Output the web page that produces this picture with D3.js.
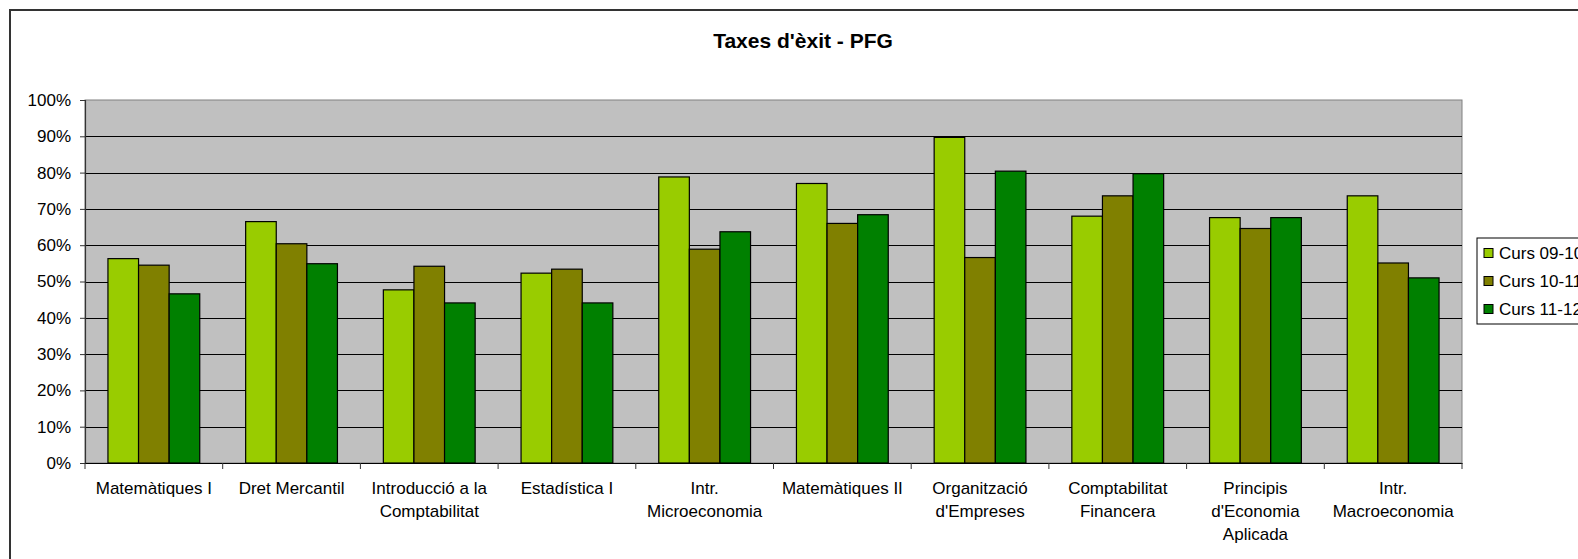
<!DOCTYPE html>
<html>
<head>
<meta charset="utf-8">
<script src="https://cdn.jsdelivr.net/npm/d3@7/dist/d3.min.js"></script>
<style>
  html, body { margin: 0; padding: 0; background: #fff; }
  svg { display: block; }
  text { font-family: "Liberation Sans", Arial, sans-serif; fill: #000; }
</style>
</head>
<body>
<script>
const title = "Taxes d'èxit - PFG";
const categories = [
  "Matemàtiques I",
  "Dret Mercantil",
  "Introducció a la\nComptabilitat",
  "Estadística I",
  "Intr.\nMicroeconomia",
  "Matemàtiques II",
  "Organització\nd'Empreses",
  "Comptabilitat\nFinancera",
  "Principis\nd'Economia\nAplicada",
  "Intr.\nMacroeconomia"
];
const seriesNames = ["Curs 09-10", "Curs 10-11", "Curs 11-12"];
const curs0910 = [0.563, 0.665, 0.477, 0.523, 0.788, 0.770, 0.897, 0.680, 0.676, 0.736];
const curs1011 = [0.545, 0.604, 0.542, 0.534, 0.589, 0.660, 0.566, 0.736, 0.646, 0.551];
const curs1112 = [0.466, 0.549, 0.441, 0.441, 0.637, 0.684, 0.804, 0.797, 0.676, 0.510];
const seriesColors = ["#99CC00", "#808000", "#008000"];
const yTicks = [0, 0.1, 0.2, 0.3, 0.4, 0.5, 0.6, 0.7, 0.8, 0.9, 1.0];

const seriesValues = [curs0910, curs1011, curs1112];
const W = 1578, H = 559;
const plot = { left: 85, right: 1462, top: 100, bottom: 463 };

const svg = d3.select("body").append("svg").attr("width", W).attr("height", H);

// outer chart border
svg.append("rect").attr("x", 10).attr("y", 10).attr("width", W + 20).attr("height", H + 20)
  .attr("fill", "#fff").attr("stroke", "#333").attr("stroke-width", 2);

// title
svg.append("text").attr("x", 803).attr("y", 48).attr("text-anchor", "middle")
  .style("font-size", "21px").style("font-weight", "bold").text(title);

const x = d3.scaleBand().domain(categories).range([plot.left, plot.right]).padding(0);
const x1 = d3.scaleBand().domain(seriesNames).range([0, x.bandwidth()])
  .paddingInner(0).paddingOuter(0.75);
const y = d3.scaleLinear().domain([0, 1]).range([plot.bottom, plot.top]);

// plot area
svg.append("rect").attr("x", plot.left).attr("y", plot.top)
  .attr("width", plot.right - plot.left).attr("height", plot.bottom - plot.top)
  .attr("fill", "#C0C0C0").attr("stroke", "#808080").attr("stroke-width", 1);

// gridlines
svg.append("g").selectAll("line").data(yTicks.slice(1, -1)).join("line")
  .attr("x1", plot.left).attr("x2", plot.right)
  .attr("y1", d => Math.round(y(d)) + 0.5).attr("y2", d => Math.round(y(d)) + 0.5)
  .attr("stroke", "#000").attr("stroke-width", 1);

// bars
const groups = svg.append("g").selectAll("g").data(categories).join("g")
  .attr("transform", c => `translate(${x(c)},0)`);
groups.selectAll("rect").data((c, i) => seriesNames.map((s, j) => ({ s, j, v: seriesValues[j][i] })))
  .join("rect")
  .attr("x", d => x1(d.s)).attr("width", x1.bandwidth())
  .attr("y", d => y(d.v)).attr("height", d => y(0) - y(d.v))
  .attr("fill", d => seriesColors[d.j]).attr("stroke", "#000").attr("stroke-width", 1.2);

// y axis
const yAxis = d3.axisLeft(y).tickValues(yTicks).tickFormat(d3.format(".0%")).tickSize(5).tickPadding(9);
const gy = svg.append("g").attr("transform", `translate(${plot.left},0)`).call(yAxis);
gy.select(".domain").attr("stroke", "#333").attr("stroke-width", 1.2);
gy.selectAll(".tick line").attr("stroke", "#333");
gy.selectAll(".tick text").style("font-size", "17px").style("font-family", "'Liberation Sans', Arial, sans-serif").attr("fill", "#000");

// x axis
const xAxis = d3.axisBottom(x).tickSize(0).tickFormat("");
const gx = svg.append("g").attr("transform", `translate(0,${plot.bottom})`).call(xAxis);
gx.select(".domain").attr("stroke", "#000").attr("stroke-width", 1.2);
gx.selectAll(".tick").remove();
const boundaries = categories.map(c => x(c)).concat([x(categories[categories.length - 1]) + x.bandwidth()]);
gx.selectAll("line.bound").data(boundaries).join("line").attr("class", "bound")
  .attr("x1", d => d).attr("x2", d => d).attr("y1", 0).attr("y2", 6)
  .attr("stroke", "#333").attr("stroke-width", 1);

// category labels
const labels = svg.append("g").selectAll("text").data(categories).join("text")
  .attr("text-anchor", "middle").style("font-size", "17px")
  .attr("transform", c => `translate(${x(c) + x.bandwidth() / 2},494)`);
labels.selectAll("tspan").data(c => c.split("\n")).join("tspan")
  .attr("x", 0).attr("dy", (d, i) => i === 0 ? 0 : 23).text(d => d);

// legend
const lg = svg.append("g");
lg.append("rect").attr("x", 1477).attr("y", 238).attr("width", 200).attr("height", 86)
  .attr("fill", "#fff").attr("stroke", "#000").attr("stroke-width", 1);
const items = lg.selectAll("g").data(seriesNames).join("g")
  .attr("transform", (d, i) => `translate(1484,${253 + i * 28})`);
items.append("rect").attr("x", 0).attr("y", -4.5).attr("width", 9).attr("height", 9)
  .attr("fill", (d, i) => seriesColors[i]).attr("stroke", "#000").attr("stroke-width", 1);
items.append("text").attr("x", 15).attr("y", 6).style("font-size", "17px").text(d => d);
</script>
</body>
</html>
